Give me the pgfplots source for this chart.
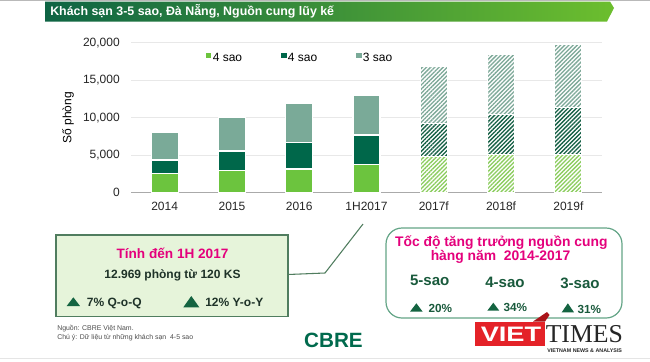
\documentclass[border=0pt]{standalone}
\usepackage{fontspec}
\setmainfont{Liberation Sans}
\newfontfamily\seriffont{Liberation Serif}
\usepackage{pgfplots}
\pgfplotsset{compat=1.18}
\usepackage{pgfplotstable}
\usetikzlibrary{patterns.meta}

\definecolor{cfive}{RGB}{108,196,62}
\definecolor{cfour}{RGB}{0,103,74}
\definecolor{cthree}{RGB}{122,170,152}
\definecolor{hfive}{RGB}{140,205,95}
\definecolor{hfour}{RGB}{20,95,68}
\definecolor{hthree}{RGB}{125,168,152}
\definecolor{gridc}{RGB}{232,232,232}
\definecolor{axisc}{RGB}{170,170,170}
\definecolor{hdrL}{RGB}{14,100,68}
\definecolor{hdrM}{RGB}{34,164,74}
\definecolor{hdrR}{RGB}{108,190,46}
\definecolor{magent}{RGB}{228,0,124}
\definecolor{boxfill}{RGB}{230,244,218}
\definecolor{boxline}{RGB}{80,125,95}
\definecolor{darktext}{RGB}{30,50,40}
\definecolor{tri}{RGB}{20,100,65}
\definecolor{sgreen}{RGB}{25,90,60}
\definecolor{roundline}{RGB}{100,165,135}
\definecolor{cbre}{RGB}{0,106,77}
\definecolor{vtred}{RGB}{228,34,40}
\definecolor{vtdark}{RGB}{170,20,25}

\pgfplotstableread{
x s5 s4 s3
0 2550 1800 3650
1 3000 2550 4450
2 3160 3560 5200
3 3780 3910 5279
}\solidtab
\pgfplotstableread{
x s5 s4 s3
4 4800 4450 7650
5 5100 5350 8000
6 5100 6230 8450
}\hatchtab

\pgfplotsset{
  geom/.style={
    at={(98.25pt,-144.525pt)}, anchor=south west,
    scale only axis, width=353.25pt, height=112.5pt,
    xmin=-0.5, xmax=6.5, ymin=0, ymax=20000,
    ybar stacked, bar width=20.25pt,
  },
  legsq/.style={legend image code/.code={\fill[##1,draw=none] (0pt,-0.2pt) rectangle (4.3pt,4.1pt);}},
}

\begin{document}
\begin{tikzpicture}
\begin{scope}[x=0.75pt,y=-0.75pt]
\path[use as bounding box] (0,0) rectangle (650,361);
\fill[white] (0,0) rectangle (650,361);
\draw[gray!55, line width=0.5pt] (0,0.4) -- (650,0.4);
\draw[gray!20, line width=0.5pt] (0,358.5) -- (650,358.5);
\shade[left color=hdrL, middle color=hdrM, right color=hdrR]
  (45,1.5) -- (610,1.5) -- (614,8) -- (607,21.5) -- (45,21.5) -- cycle;
\node[anchor=west, text=white, inner sep=0pt, font=\bfseries\fontsize{9.3}{10}\selectfont] at (50,11) {Khách sạn 3-5 sao, Đà Nẵng, Nguồn cung lũy kế};
\end{scope}

\begin{axis}[geom,
  xtick={0,...,6},
  xticklabels={2014,2015,2016,1H2017,2017f,2018f,2019f},
  ytick={0,5000,10000,15000,20000},
  scaled y ticks=false,
  /pgf/number format/fixed,
  /pgf/number format/1000 sep={,},
  /pgf/number format/assume math mode=true,
  tick label style={font=\fontsize{9}{11}\selectfont, text=black!85},
  xticklabel style={inner sep=0pt, yshift=-7pt},
  yticklabel style={inner sep=0pt, xshift=-8.25pt},
  major tick length=0pt,
  ymajorgrids, grid style={draw=gridc, line width=0.6pt},
  axis x line*=bottom, axis y line*=left,
  x axis line style={draw=axisc, line width=0.9pt},
  y axis line style={draw=none},
  ylabel={Số phòng},
  ylabel style={at={(axis description cs:-0.134,0.5)}, anchor=center, font=\fontsize{9}{11}\selectfont},
  legend columns=3,
  legend style={at={(0.158,0.898)}, anchor=west, draw=none, fill=none,
    font=\fontsize{9}{11}\selectfont, inner sep=0pt,
    nodes={inner sep=1pt},
    /tikz/every even column/.append style={column sep=28pt}},
]
\addplot[fill=cfive, draw=white, line width=0.9pt, legsq] table[x=x,y=s5]{\solidtab};
\addplot[fill=cfour, draw=white, line width=0.9pt, legsq] table[x=x,y=s4]{\solidtab};
\addplot[fill=cthree, draw=white, line width=0.9pt, legsq] table[x=x,y=s3]{\solidtab};
\legend{4 sao, 4 sao, 3 sao}
\end{axis}

\begin{axis}[geom, hide axis]
\addplot[preaction={fill=white}, pattern={Lines[angle=45,distance=2.2pt,line width=1pt]}, pattern color=hfive, draw=white, line width=0.9pt] table[x=x,y=s5]{\hatchtab};
\addplot[preaction={fill=white}, pattern={Lines[angle=45,distance=2.2pt,line width=1pt]}, pattern color=hfour, draw=white, line width=0.9pt] table[x=x,y=s4]{\hatchtab};
\addplot[preaction={fill=white}, pattern={Lines[angle=45,distance=2.2pt,line width=1pt]}, pattern color=hthree, draw=white, line width=0.9pt] table[x=x,y=s3]{\hatchtab};
\end{axis}

\begin{scope}[x=0.75pt,y=-0.75pt]
% callout line
\draw[boxline, line width=0.8pt] (288,274.5) -- (325,273) -- (363,224);
% box 1
\draw[draw=boxline, fill=boxfill, line width=0.8pt] (56,235) rectangle (288,316.7);
\node[text=magent, inner sep=0pt, font=\bfseries\fontsize{10.2}{12}\selectfont] at (172.5,253.5) {Tính đến 1H 2017};
\node[text=darktext, inner sep=0pt, font=\bfseries\fontsize{9}{11}\selectfont] at (172.5,275.5) {12.969 phòng từ 120 KS};
\fill[tri] (66.7,306) -- (80,306) -- (73.35,297.3) -- cycle;
\node[anchor=base west, text=darktext, inner sep=0pt, font=\bfseries\fontsize{9}{11}\selectfont] at (86.7,306) {7\% Q-o-Q};
\fill[tri] (183.3,307.3) -- (199.3,307.3) -- (191.3,296) -- cycle;
\node[anchor=base west, text=darktext, inner sep=0pt, font=\bfseries\fontsize{9}{11}\selectfont] at (205,306.5) {12\% Y-o-Y};
% footnote
\node[anchor=base west, text=black!70, inner sep=0pt, font=\fontsize{5.2}{6}\selectfont] at (57,330.5) {Nguồn: CBRE Việt Nam.};
\node[anchor=base west, text=black!70, inner sep=0pt, font=\fontsize{5.2}{6}\selectfont] at (57,339.5) {Chú ý: Dữ liệu từ những khách sạn\ \ 4-5 sao};
% CBRE
\node[text=cbre, inner sep=0pt, font=\bfseries\fontsize{15.5}{16}\selectfont] at (333.5,340.5) {CBRE};
% box 2
\draw[draw=roundline, fill=white, line width=0.9pt, rounded corners=12] (386,228) rectangle (622,318);
\node[anchor=base, text=magent, inner sep=0pt, font=\bfseries\fontsize{10.4}{12}\selectfont] at (501.3,246.7) {Tốc độ tăng trưởng nguồn cung};
\node[anchor=base, text=magent, inner sep=0pt, font=\bfseries\fontsize{10.4}{12}\selectfont] at (500.5,260.7) {hàng năm\ \ 2014-2017};
\node[anchor=base, text=sgreen, inner sep=0pt, font=\bfseries\fontsize{11.3}{13}\selectfont] at (429.7,285.5) {5-sao};
\node[anchor=base, text=sgreen, inner sep=0pt, font=\bfseries\fontsize{11.3}{13}\selectfont] at (505,287) {4-sao};
\node[anchor=base, text=sgreen, inner sep=0pt, font=\bfseries\fontsize{11.3}{13}\selectfont] at (580,288.3) {3-sao};
\fill[tri] (410,311.7) -- (422.7,311.7) -- (416.35,303.3) -- cycle;
\node[anchor=base west, text=sgreen, inner sep=0pt, font=\bfseries\fontsize{8.8}{10}\selectfont] at (428.3,312.3) {20\%};
\fill[tri] (487.3,310.7) -- (499.3,310.7) -- (493.3,302.7) -- cycle;
\node[anchor=base west, text=sgreen, inner sep=0pt, font=\bfseries\fontsize{8.8}{10}\selectfont] at (503.3,311.5) {34\%};
\fill[tri] (561.7,312.3) -- (574,312.3) -- (567.85,303.3) -- cycle;
\node[anchor=base west, text=sgreen, inner sep=0pt, font=\bfseries\fontsize{8.8}{10}\selectfont] at (577.3,313.3) {31\%};
% VietTimes logo
\fill[vtred] (475,321.5) rectangle (545,346);
\fill[vtdark] (533,321.5) -- (547,312) -- (549.5,315) -- (545,321.5) -- cycle;
\node[text=white, inner sep=0pt, font=\bfseries\fontsize{15.7}{16}\selectfont] at (511,334.5) {\scalebox{1.3}[1]{VIET}};
\node[anchor=base west, text=black!85, inner sep=0pt, font=\seriffont\fontsize{19.3}{20}\selectfont] at (545.5,342.7) {TIMES};
\node[anchor=base west, text=black!85, inner sep=0pt, font=\bfseries\fontsize{4}{5}\selectfont] at (547,352.5) {VIETNAM NEWS \& ANALYSIS};
\end{scope}
\end{tikzpicture}
\end{document}
